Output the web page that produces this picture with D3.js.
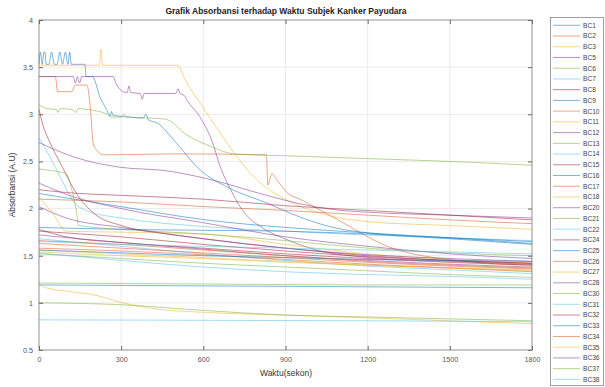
<!DOCTYPE html>
<html>
<head>
<meta charset="utf-8">
<script src="https://cdn.jsdelivr.net/npm/d3@7"></script>
<style>
  body { margin: 0; background: #fff; }
  svg { display: block; font-family: "Liberation Sans", Arial, sans-serif; }
</style>
</head>
<body>
<div id="chart"></div>
<script>
// series names as shown in the legend
const seriesNames = ['BC1', 'BC2', 'BC3', 'BC5', 'BC6', 'BC7', 'BC8', 'BC9', 'BC10', 'BC11', 'BC12', 'BC13',
    'BC14', 'BC15', 'BC16', 'BC17', 'BC18', 'BC20', 'BC21', 'BC22', 'BC24', 'BC25', 'BC26', 'BC27', 'BC28',
    'BC30', 'BC31', 'BC32', 'BC33', 'BC34', 'BC35', 'BC36', 'BC37', 'BC38']

const xTicks = [0, 300, 600, 900, 1200, 1500, 1800]
const yTicks = [0.5, 1, 1.5, 2, 2.5, 3, 3.5, 4]

// [time (s), absorbance]
const bc1 = [[0,3.53],[5,3.66],[12,3.53],[18,3.66],[22,3.66],[26,3.53],[36,3.53],[46,3.66],[56,3.53],[66,3.53],[76,3.66],[86,3.53],[96,3.66],[106,3.53],[112,3.66],[118,3.53],[168,3.53],[172,3.40],[195,3.40],[223,3.18],[247,3.05],[260,2.98],[265,3.03],[270,2.99],[332,2.97],[380,2.96],[390,3.00],[400,2.94],[430,2.91],[503,2.69],[588,2.41],[686,2.23],[831,2.06],[953,1.91],[1073,1.80],[1208,1.74],[1500,1.68],[1800,1.62]]
const bc2 = [[0,3.40],[60,3.40],[68,3.24],[120,3.24],[132,3.31],[175,3.31],[188,3.05],[198,2.69],[211,2.62],[235,2.57],[500,2.58],[830,2.57],[836,2.25],[842,2.30],[850,2.37],[870,2.30],[905,2.17],[953,2.10],[1073,1.91],[1281,1.59],[1526,1.45],[1800,1.40]]
const bc3 = [[0,3.52],[220,3.52],[226,3.69],[232,3.52],[503,3.52],[540,3.33],[588,3.12],[650,2.85],[710,2.60],[770,2.38],[831,2.22],[905,2.09],[1014,1.96],[1099,1.90],[1208,1.86],[1500,1.82],[1800,1.78]]
const bc5 = [[0,3.40],[125,3.40],[133,3.33],[140,3.40],[148,3.33],[156,3.40],[270,3.40],[284,3.31],[307,3.24],[322,3.23],[328,3.30],[335,3.23],[370,3.22],[377,3.16],[384,3.22],[500,3.22],[508,3.27],[515,3.22],[530,3.20],[540,3.15],[588,2.97],[635,2.69],[661,2.45],[700,2.20],[734,2.02],[831,1.77],[905,1.67],[1014,1.56],[1208,1.48],[1500,1.44],[1800,1.41]]
const bc6 = [[0,3.10],[30,3.06],[65,3.05],[70,3.02],[76,3.06],[120,3.05],[135,3.02],[142,3.06],[200,3.04],[250,3.00],[265,2.97],[300,2.97],[310,3.00],[320,2.97],[400,2.96],[460,2.95],[540,2.78],[635,2.65],[710,2.58],[900,2.56],[1200,2.53],[1500,2.50],[1800,2.46]]
const bc7 = [[0,2.75],[40,2.55],[80,2.32],[125,2.08],[180,1.97],[300,1.90],[600,1.81],[900,1.76],[1200,1.72],[1500,1.69],[1800,1.66]]
const bc8 = [[0,3.05],[15,2.88],[40,2.70],[80,2.47],[139,2.15],[200,1.95],[300,1.82],[450,1.74],[600,1.68],[900,1.58],[1200,1.50],[1500,1.45],[1800,1.42]]
const bc9 = [[0,2.16],[150,2.09],[300,2.02],[609,1.88],[900,1.80],[1208,1.74],[1500,1.69],[1800,1.63]]
const bc10 = [[0,2.10],[300,2.07],[609,2.02],[900,1.98],[1200,1.93],[1500,1.88],[1800,1.84]]
const bc11 = [[0,2.12],[50,1.95],[100,1.76],[300,1.75],[600,1.73],[900,1.62],[1200,1.52],[1500,1.46],[1800,1.42]]
const bc12 = [[0,2.70],[135,2.54],[292,2.44],[467,2.40],[609,2.32],[831,2.14],[953,2.05],[1073,1.99],[1208,1.96],[1500,1.93],[1800,1.90]]
const bc13 = [[0,2.42],[25,2.41],[100,2.37],[115,2.25],[135,2.00],[145,1.82],[300,1.78],[600,1.73],[900,1.66],[1200,1.58],[1500,1.53],[1800,1.50]]
const bc14 = [[0,1.68],[300,1.60],[600,1.52],[900,1.45],[1200,1.39],[1500,1.35],[1800,1.31]]
const bc15 = [[0,2.20],[100,2.17],[300,2.14],[600,2.10],[900,2.03],[1200,1.98],[1500,1.93],[1800,1.88]]
const bc16 = [[0,1.80],[300,1.78],[600,1.77],[900,1.76],[1200,1.73],[1500,1.69],[1800,1.65]]
const bc17 = [[0,1.63],[300,1.58],[600,1.53],[900,1.48],[1200,1.43],[1500,1.39],[1800,1.36]]
const bc18 = [[0,1.56],[300,1.52],[600,1.48],[900,1.44],[1200,1.40],[1500,1.37],[1800,1.34]]
const bc20 = [[0,2.27],[100,2.15],[300,2.00],[600,1.85],[900,1.70],[1200,1.60],[1500,1.52],[1800,1.47]]
const bc21 = [[0,1.52],[300,1.47],[600,1.42],[900,1.38],[1200,1.34],[1500,1.30],[1800,1.27]]
const bc22 = [[0,1.53],[300,1.45],[600,1.38],[900,1.33],[1200,1.30],[1500,1.28],[1800,1.25]]
const bc24 = [[0,1.78],[100,1.70],[300,1.64],[600,1.58],[900,1.52],[1200,1.47],[1500,1.43],[1800,1.40]]
const bc25 = [[0,1.19],[600,1.18],[1200,1.17],[1800,1.16]]
const bc26 = [[0,1.58],[300,1.55],[600,1.51],[900,1.46],[1200,1.41],[1500,1.37],[1800,1.33]]
const bc27 = [[0,1.20],[25,1.16],[110,1.12],[208,1.08],[292,1.01],[416,0.94],[600,0.90],[905,0.87],[1208,0.84],[1500,0.81],[1800,0.78]]
const bc28 = [[0,1.72],[300,1.64],[600,1.57],[900,1.50],[1200,1.45],[1500,1.41],[1800,1.38]]
const bc30 = [[0,1.00],[300,0.98],[600,0.92],[900,0.87],[1200,0.85],[1500,0.83],[1800,0.81]]
const bc31 = [[0,0.82],[600,0.815],[1200,0.81],[1800,0.80]]
const bc32 = [[0,1.76],[300,1.70],[600,1.62],[900,1.55],[1200,1.49],[1500,1.45],[1800,1.42]]
const bc33 = [[0,1.56],[300,1.53],[600,1.50],[900,1.48],[1200,1.46],[1500,1.45],[1800,1.44]]
const bc34 = [[0,1.66],[300,1.62],[600,1.56],[900,1.50],[1200,1.44],[1500,1.40],[1800,1.37]]
const bc35 = [[0,1.54],[300,1.50],[600,1.47],[900,1.43],[1200,1.40],[1500,1.37],[1800,1.35]]
const bc36 = [[0,2.02],[100,1.90],[300,1.80],[600,1.68],[900,1.58],[1200,1.51],[1500,1.47],[1800,1.44]]
const bc37 = [[0,1.21],[600,1.20],[1200,1.19],[1800,1.19]]
const bc38 = [[0,1.65],[300,1.62],[600,1.60],[900,1.58],[1200,1.56],[1500,1.54],[1800,1.52]]

const seriesValues = [bc1, bc2, bc3, bc5, bc6, bc7, bc8, bc9, bc10, bc11, bc12, bc13, bc14, bc15, bc16, bc17,
    bc18, bc20, bc21, bc22, bc24, bc25, bc26, bc27, bc28, bc30, bc31, bc32, bc33, bc34, bc35, bc36, bc37, bc38]

// default line colour order, cycles every 7 series
const palette = ['#0072BD', '#D95319', '#EDB120', '#7E2F8E', '#77AC30', '#4DBEEE', '#A2142F']

const width = 605, height = 387
const plot = {left: 39, right: 532, top: 20, bottom: 350}

const svg = d3.select('#chart').append('svg')
    .attr('width', width)
    .attr('height', height)

const x = d3.scaleLinear().domain([0, 1800]).range([plot.left, plot.right])
const y = d3.scaleLinear().domain([0.5, 4]).range([plot.bottom, plot.top])

//grid
svg.append('g')
    .selectAll('line')
    .data(xTicks.slice(1, -1))
    .join('line')
    .attr('x1', d => x(d)).attr('x2', d => x(d))
    .attr('y1', plot.top).attr('y2', plot.bottom)
    .attr('stroke', '#e6e6e6').attr('stroke-width', 0.8)
svg.append('g')
    .selectAll('line')
    .data(yTicks.slice(1, -1))
    .join('line')
    .attr('x1', plot.left).attr('x2', plot.right)
    .attr('y1', d => y(d)).attr('y2', d => y(d))
    .attr('stroke', '#e6e6e6').attr('stroke-width', 0.8)

//lines
const line = d3.line()
    .x(d => x(d[0]))
    .y(d => y(d[1]))
    .curve(d3.curveMonotoneX)

svg.append('g')
    .selectAll('path')
    .data(seriesValues)
    .join('path')
    .attr('d', line)
    .attr('fill', 'none')
    .attr('stroke', (_, i) => palette[i % 7])
    .attr('stroke-opacity', 0.62)
    .attr('stroke-width', 0.85)

//axes, ticks inward and mirrored on top/right
const axisColor = '#666'
const styleAxis = g => {
    g.select('.domain').remove()
    g.selectAll('.tick line').attr('stroke', axisColor)
    g.selectAll('.tick text').attr('fill', '#555').style('font-size', '7.2px')
        .style('font-family', '"Liberation Sans", Arial, sans-serif')
}

svg.append('g')
    .attr('transform', `translate(0,${plot.bottom})`)
    .call(d3.axisBottom(x).tickValues(xTicks).tickSize(-4).tickPadding(7).tickFormat(d3.format('d')))
    .call(styleAxis)
svg.append('g')
    .attr('transform', `translate(0,${plot.top})`)
    .call(d3.axisTop(x).tickValues(xTicks).tickSize(-4).tickFormat(''))
    .call(styleAxis)
svg.append('g')
    .attr('transform', `translate(${plot.left},0)`)
    .call(d3.axisLeft(y).tickValues(yTicks).tickSize(-4).tickPadding(6).tickFormat(d3.format('')))
    .call(styleAxis)
svg.append('g')
    .attr('transform', `translate(${plot.right},0)`)
    .call(d3.axisRight(y).tickValues(yTicks).tickSize(-4).tickFormat(''))
    .call(styleAxis)

svg.append('rect')
    .attr('x', plot.left).attr('y', plot.top)
    .attr('width', plot.right - plot.left).attr('height', plot.bottom - plot.top)
    .attr('fill', 'none').attr('stroke', '#777').attr('stroke-width', 0.8)

//title and labels
svg.append('text')
    .attr('x', 286).attr('y', 14)
    .attr('text-anchor', 'middle')
    .style('font-size', '8.5px').style('font-weight', 'bold').attr('fill', '#222')
    .text('Grafik Absorbansi terhadap Waktu Subjek Kanker Payudara')
svg.append('text')
    .attr('x', 286).attr('y', 376)
    .attr('text-anchor', 'middle')
    .style('font-size', '8.5px').attr('fill', '#333')
    .text('Waktu(sekon)')
svg.append('text')
    .attr('transform', `translate(15,${(plot.top + plot.bottom) / 2}) rotate(-90)`)
    .attr('text-anchor', 'middle')
    .style('font-size', '8.5px').attr('fill', '#333')
    .text('Absorbansi (A.U)')

//legend
const legendTop = 25.3, legendStep = 10.73
const legend = svg.append('g')
legend.append('rect')
    .attr('x', 550.5).attr('y', 17.5)
    .attr('width', 53).attr('height', 368)
    .attr('fill', '#fff').attr('stroke', '#888').attr('stroke-width', 0.8)
const items = legend.selectAll('g.item')
    .data(seriesNames)
    .join('g')
    .attr('class', 'item')
    .attr('transform', (_, i) => `translate(0,${legendTop + i * legendStep})`)
items.append('line')
    .attr('x1', 553).attr('x2', 580)
    .attr('stroke', (_, i) => palette[i % 7])
    .attr('stroke-opacity', 0.62)
    .attr('stroke-width', 0.85)
items.append('text')
    .attr('x', 583).attr('y', 2.4)
    .style('font-size', '6.6px').attr('fill', '#444')
    .text(d => d)
</script>
</body>
</html>
